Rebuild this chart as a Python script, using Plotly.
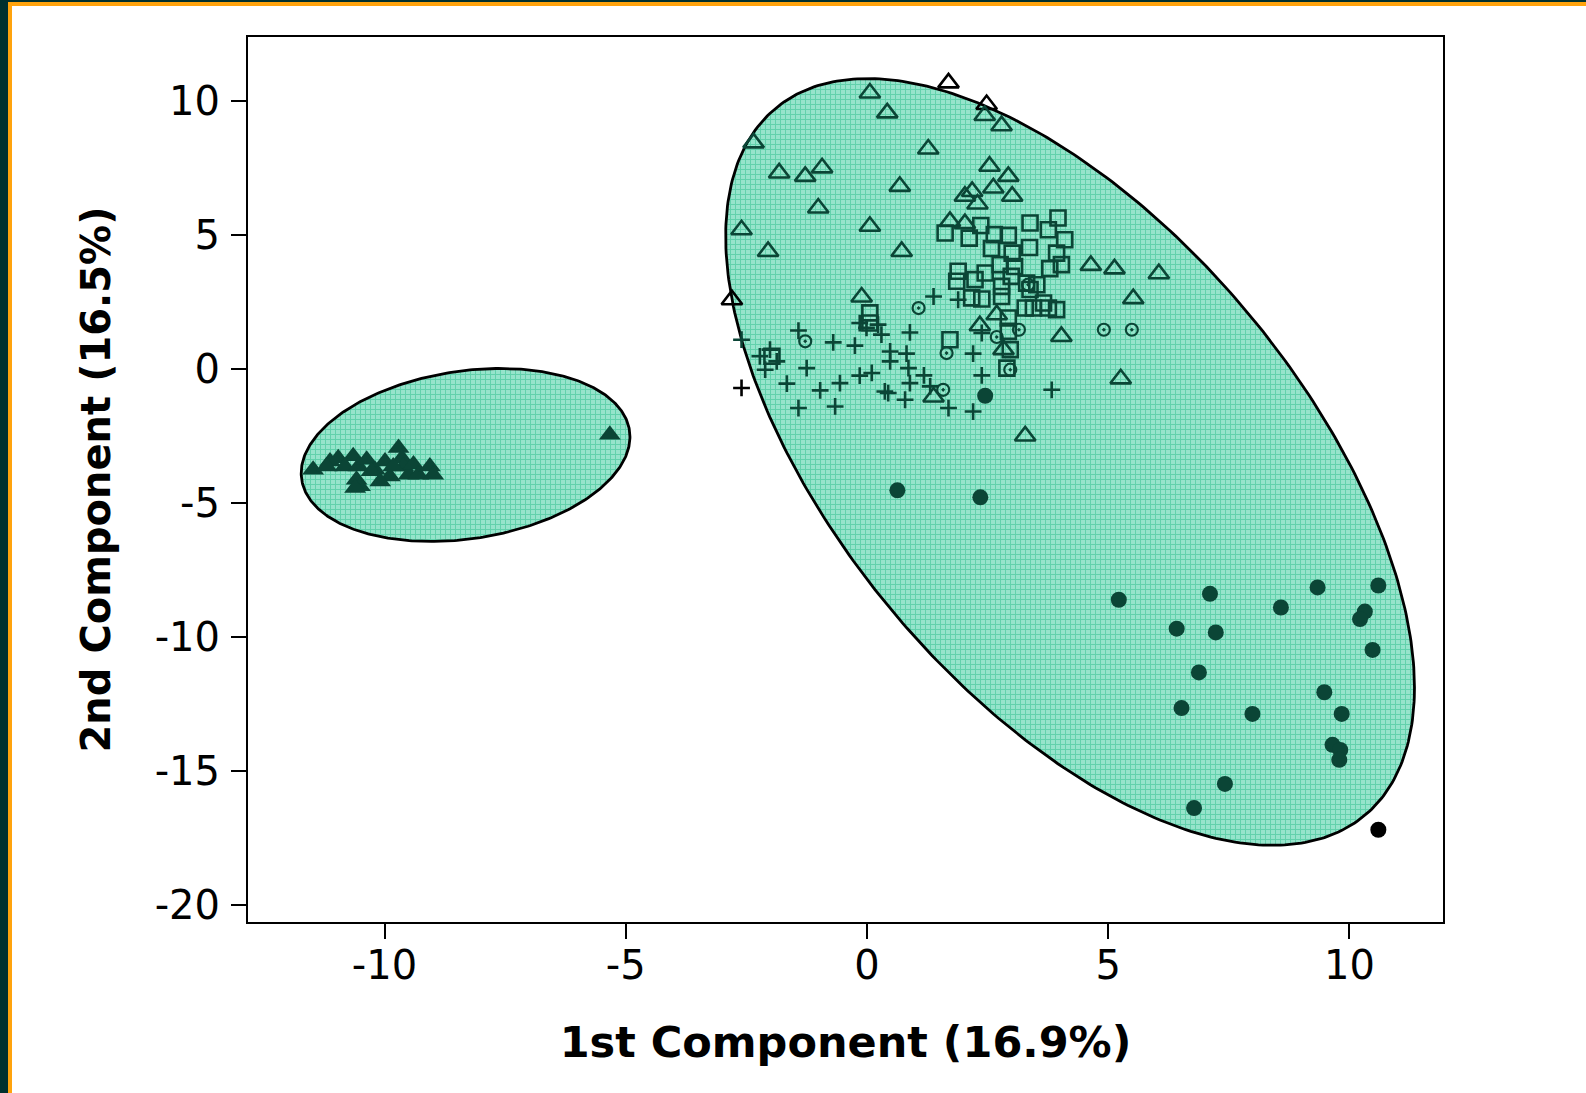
import numpy as np
import plotly.graph_objects as go

# ---------------- data ----------------
tri_open_x = [1.69, 0.06, 0.42, 2.48, 2.44, 2.79, -2.35, 1.27, -1.82, -1.28, -0.93,
              0.68, 2.54, 2.93, 2.62, 3.01, 2.03, 2.18, 2.29, -1.01, -2.6,
              0.06, 1.72, 2.03, -2.05, 0.72, 4.64, 5.13, 6.05, 5.52, -0.11,
              -2.8, 2.69, 2.34, 4.03, 2.83, 5.26, 1.38, 3.28]
tri_open_y = [10.67, 10.29, 9.55, 9.86, 9.45, 9.07, 8.43, 8.2, 7.31, 7.18, 7.5,
              6.81, 7.56, 7.18, 6.75, 6.44, 6.44, 6.62, 6.15, 6.0, 5.19,
              5.32, 5.5, 5.42, 4.38, 4.38, 3.86, 3.73, 3.55, 2.62, 2.68,
              2.58, 2.02, 1.61, 1.21, 0.72, -0.37, -1.05, -2.5]

square_x = [1.62, 2.12, 2.36, 2.64, 2.93, 3.38, 3.96, 3.76, 4.1, 2.58,
            3.01, 3.37, 3.93, 3.79, 4.03, 1.89, 1.86, 2.24, 2.45, 2.76,
            3.06, 2.99, 2.79, 3.31, 3.52, 2.79, 2.17, 2.38, 3.28, 3.45,
            3.66, 3.93, 3.76, 3.38, 2.93, 2.93, 2.97, 2.9, 0.06, 0.06,
            1.72, -1.97]
square_y = [5.07, 4.88, 5.35, 5.01, 4.98, 5.44, 5.63, 5.19, 4.82, 4.49,
            4.32, 4.53, 4.32, 3.74, 3.89, 3.64, 3.27, 3.33, 3.58, 3.89,
            3.82, 3.45, 3.08, 3.2, 3.14, 2.7, 2.65, 2.61, 2.27, 2.27,
            2.46, 2.21, 2.27, 2.96, 1.9, 1.4, 0.72, 0.03, 2.09, 1.71,
            1.09, 0.47]

plus_x = [1.38, 1.89, -2.6, -1.42, -0.7, -0.25, -0.15, -0.01, 0.23, 0.3,
          0.89, 0.48, 0.48, 0.82, 0.86, 1.18, 0.89, 1.31, 0.37, 0.44,
          0.79, 1.69, 2.2, 2.38, 2.2, 2.38, 3.83, -2.22, -2.11, -1.87,
          -1.25, -1.66, -0.97, -0.56, -0.15, 0.1, -2.6, -1.42, -0.66, -2.01]
plus_y = [2.7, 2.58, 1.09, 1.43, 0.99, 0.87, 1.71, 1.53, 1.65, 1.28,
          1.36, 0.65, 0.28, 0.57, 0.03, -0.24, -0.53, -0.65, -0.84, -0.9,
          -1.15, -1.46, -1.59, -0.24, 0.57, 1.34, -0.78, 0.47, -0.03, 0.28,
          0.03, -0.55, -0.8, -0.53, -0.25, -0.15, -0.71, -1.46, -1.4, 0.72]

cdot_x = [1.07, -1.28, 1.65, 1.58, 3.15, 2.69, 2.97, 4.91, 5.49, 3.34]
cdot_y = [2.27, 1.03, 0.59, -0.78, 1.46, 1.19, -0.03, 1.46, 1.46, 3.14]

circ_x = [2.45, 0.63, 2.35, 5.22, 7.11, 9.34, 10.6, 8.58, 10.32, 10.22,
          6.42, 7.23, 10.48, 6.88, 9.48, 6.52, 7.99, 9.84, 9.65, 9.81,
          9.79, 7.42, 6.78, 10.6]
circ_y = [-1.0, -4.53, -4.79, -8.61, -8.39, -8.15, -8.08, -8.9, -9.05, -9.33,
          -9.69, -9.83, -10.48, -11.32, -12.06, -12.65, -12.87, -12.87, -14.02, -14.21,
          -14.58, -15.48, -16.38, -17.19]

tri_fill_x = [-5.33, -11.48, -11.13, -10.96, -10.82, -10.65, -10.54, -10.37, -10.58,
              -10.51, -10.2, -9.99, -9.71, -9.64, -9.61, -9.5, -9.4, -9.3, -9.06,
              -8.99, -10.27, -9.89, -10.09, -10.61, -11.2, -9.82]
tri_fill_y = [-2.46, -3.76, -3.45, -3.33, -3.64, -3.26, -3.64, -3.39, -4.13,
              -4.38, -3.76, -3.45, -2.95, -3.33, -3.64, -3.95, -3.57, -3.95, -3.64,
              -3.95, -3.82, -4.01, -4.2, -4.44, -3.64, -3.64]

# confidence ellipses: centre and covariance-like matrix (data units)
ell_big_center = [4.21, -3.47]
ell_big_cov = [[50.96, -60.07], [-60.07, 204.5]]
ell_small_center = [-8.32, -3.21]
ell_small_cov = [[11.61, 2.314], [2.314, 10.41]]

x_ticks = [-10, -5, 0, 5, 10]
x_ticktext = ["-10", "-5", "0", "5", "10"]
y_ticks = [10, 5, 0, -5, -10, -15, -20]
y_ticktext = ["10", "5", "0", "-5", "-10", "-15", "-20"]

# ---------------- styling ----------------
FONT = "DejaVu Sans"
DARK_IN = "#0b4536"
OUT = "#000000"
FILL_BG = "#96e4cb"
FILL_FG = "#2bbd8c"


def ellipse_xy(center, cov, n=400):
    L = np.linalg.cholesky(np.array(cov))
    t = np.linspace(0, 2 * np.pi, n)
    pts = L @ np.vstack([np.cos(t), np.sin(t)])
    return pts[0] + center[0], pts[1] + center[1]


def inside(xs, ys):
    res = []
    for x, y in zip(xs, ys):
        ok = False
        for c, s in ((ell_big_center, ell_big_cov), (ell_small_center, ell_small_cov)):
            d = np.array([x - c[0], y - c[1]])
            if d @ np.linalg.inv(np.array(s)) @ d <= 1.0:
                ok = True
        res.append(ok)
    return res


def colors(xs, ys):
    return [DARK_IN if i else OUT for i in inside(xs, ys)]


fig = go.Figure()

for c, s in ((ell_big_center, ell_big_cov), (ell_small_center, ell_small_cov)):
    ex, ey = ellipse_xy(c, s)
    fig.add_trace(go.Scatter(
        x=ex, y=ey, mode="lines", fill="toself",
        fillcolor=FILL_BG,
        fillpattern=dict(shape="+", fgcolor=FILL_FG, bgcolor=FILL_BG, size=5, solidity=0.35),
        line=dict(color="black", width=2.8), hoverinfo="skip"))

fig.add_trace(go.Scatter(
    x=tri_fill_x, y=tri_fill_y, mode="markers",
    marker=dict(symbol="triangle-up", size=19, color=colors(tri_fill_x, tri_fill_y),
                line=dict(width=0))))

c = colors(tri_open_x, tri_open_y)
fig.add_trace(go.Scatter(
    x=tri_open_x, y=tri_open_y, mode="markers",
    marker=dict(symbol="triangle-up-open", size=18, color=c, line=dict(width=2.6, color=c))))

c = colors(square_x, square_y)
fig.add_trace(go.Scatter(
    x=square_x, y=square_y, mode="markers",
    marker=dict(symbol="square-open", size=15, color=c, line=dict(width=2.6, color=c))))

c = colors(plus_x, plus_y)
fig.add_trace(go.Scatter(
    x=plus_x, y=plus_y, mode="markers",
    marker=dict(symbol="cross-thin-open", size=12, color=c, line=dict(width=2.6, color=c))))

c = colors(cdot_x, cdot_y)
fig.add_trace(go.Scatter(
    x=cdot_x, y=cdot_y, mode="markers",
    marker=dict(symbol="circle-open-dot", size=12, color=c, line=dict(width=2.2, color=c))))

c = colors(circ_x, circ_y)
fig.add_trace(go.Scatter(
    x=circ_x, y=circ_y, mode="markers",
    marker=dict(symbol="circle", size=16, color=c, line=dict(width=0))))

axis_common = dict(
    showgrid=False, zeroline=False, showline=True, linecolor="black", linewidth=2,
    mirror=True, ticks="outside", ticklen=15, tickwidth=2, tickcolor="black",
    tickfont=dict(family=FONT, size=40, color="black"),
)

fig.update_layout(
    width=1586, height=1093,
    margin=dict(l=248, r=143, t=37, b=171, autoexpand=False),
    plot_bgcolor="white", paper_bgcolor="white", showlegend=False,
    xaxis=dict(range=[-12.83, 11.94], tickmode="array", tickvals=x_ticks, ticktext=x_ticktext,
               title=dict(text="1st Component (16.9%)", standoff=40,
                          font=dict(family=FONT, size=43, color="black", weight="bold")),
               ticklabelstandoff=-8, **axis_common),
    yaxis=dict(range=[-20.63, 12.38], tickmode="array", tickvals=y_ticks, ticktext=y_ticktext,
               title=dict(text="2nd Component (16.5%)", standoff=32,
                          font=dict(family=FONT, size=40, color="black", weight="bold")),
               ticklabelstandoff=3, **axis_common),
)

DARK_EDGE = "#00302e"
ORANGE = "#ffa30d"
px = dict(type="rect", xref="paper", yref="paper", xsizemode="pixel", ysizemode="pixel",
          xanchor=0, yanchor=0, line=dict(width=0), layer="above")
fig.add_shape(**px, x0=-248, x1=-240, y0=-171, y1=922, fillcolor=DARK_EDGE)
fig.add_shape(**px, x0=-240, x1=-236, y0=-171, y1=920, fillcolor=ORANGE)
fig.add_shape(**px, x0=-248, x1=1338, y0=920, y1=922, fillcolor=DARK_EDGE)
fig.add_shape(**px, x0=-240, x1=1338, y0=916, y1=920, fillcolor=ORANGE)

fig.write_html("out.html", config={"displayModeBar": False},
               post_script="document.body.style.margin='0px';document.body.style.overflow='hidden';")
